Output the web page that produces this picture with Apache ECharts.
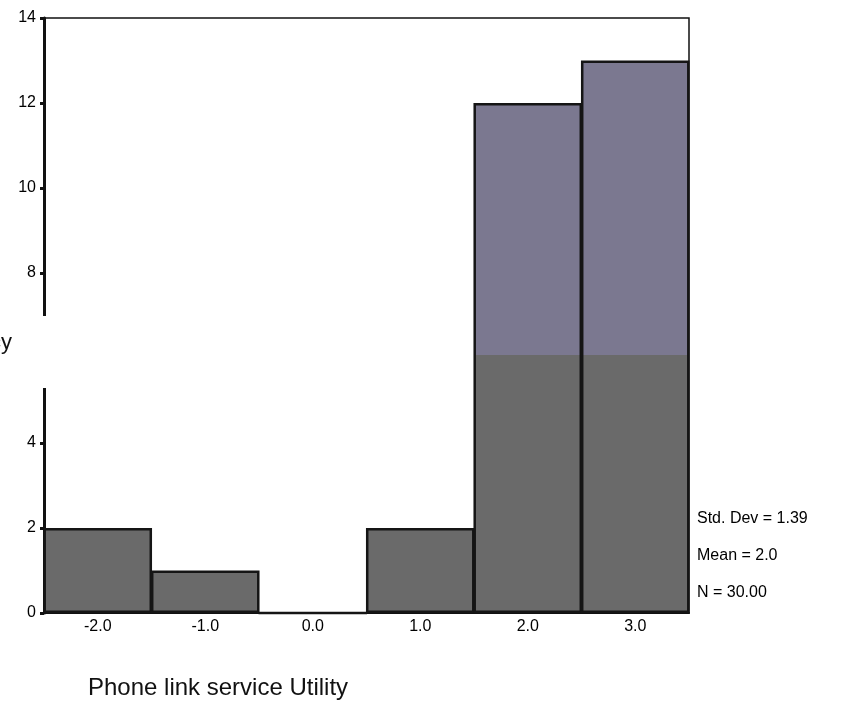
<!DOCTYPE html>
<html>
<head>
<meta charset="utf-8">
<script src="https://cdn.jsdelivr.net/npm/echarts@6/dist/echarts.min.js"></script>
<style>
  html, body { margin: 0; padding: 0; background: #fff; }
  #chart { width: 845px; height: 719px; }
</style>
</head>
<body>
<div id="chart"></div>
<script>
// Histogram bins (utility score) and their frequencies
const binLabels = ['-2.0', '-1.0', '0.0', '1.0', '2.0', '3.0'];
const frequencies = [2, 1, 0, 2, 12, 13];
const yTicks = [0, 2, 4, 6, 8, 10, 12, 14];
const statLines = ['Std. Dev = 1.39', 'Mean = 2.0', 'N = 30.00'];
const axisTitle = 'Phone link service Utility';
const yTitle = 'Frequency';

const chart = echarts.init(document.getElementById('chart'), null, { renderer: 'canvas' });

const FONT = 'Liberation Sans, Arial, sans-serif';

// Bar fill: bluish-grey top band and neutral grey below
const barFill = new echarts.graphic.LinearGradient(0, 0, 0, 719, [
  { offset: 0, color: '#7b7890' },
  { offset: 355 / 719, color: '#7b7890' },
  { offset: 355 / 719, color: '#6a6a6a' },
  { offset: 1, color: '#6a6a6a' }
], true);

chart.setOption({
  animation: false,
  backgroundColor: '#ffffff',
  grid: { left: 44, right: 156, top: 18, bottom: 106, show: true, borderColor: '#111', borderWidth: 1.5, backgroundColor: 'transparent' },
  xAxis: {
    type: 'category',
    data: binLabels,
    axisLine: { lineStyle: { color: '#111', width: 2 } },
    axisTick: { alignWithLabel: true, length: 4, lineStyle: { color: '#111', width: 3 } },
    axisLabel: { color: '#000', fontFamily: FONT, fontSize: 16, margin: 6 },
    splitLine: { show: false }
  },
  yAxis: {
    type: 'value',
    min: yTicks[0],
    max: yTicks[yTicks.length - 1],
    interval: 2,
    axisLine: { show: true, lineStyle: { color: '#111', width: 3 } },
    axisTick: { show: true, length: 4, lineStyle: { color: '#111', width: 3 } },
    axisLabel: {
      color: '#000', fontFamily: FONT, fontSize: 16, margin: 8,
      formatter: v => (v === 6 ? '' : String(v))
    },
    splitLine: { show: false }
  },
  series: [{
    type: 'bar',
    data: frequencies,
    barWidth: '101%',
    barCategoryGap: 0,
    itemStyle: { color: barFill, borderColor: '#151515', borderWidth: 2.5 }
  }],
  graphic: [
    // break in the vertical axis around the missing 6 label
    { type: 'rect', shape: { x: 30, y: 316, width: 18, height: 72 }, style: { fill: '#ffffff' }, z: 100 },
    { type: 'text', right: 833, top: 332, style: { text: yTitle, font: '22px ' + FONT, fill: '#111', textAlign: 'right' }, z: 101 },
    { type: 'text', left: 697, top: 511, style: { text: statLines[0], font: '16px ' + FONT, fill: '#000' } },
    { type: 'text', left: 697, top: 548, style: { text: statLines[1], font: '16px ' + FONT, fill: '#000' } },
    { type: 'text', left: 697, top: 585, style: { text: statLines[2], font: '16px ' + FONT, fill: '#000' } },
    { type: 'text', left: 88, top: 676, style: { text: axisTitle, font: '24px ' + FONT, fill: '#111' } }
  ]
});
</script>
</body>
</html>
